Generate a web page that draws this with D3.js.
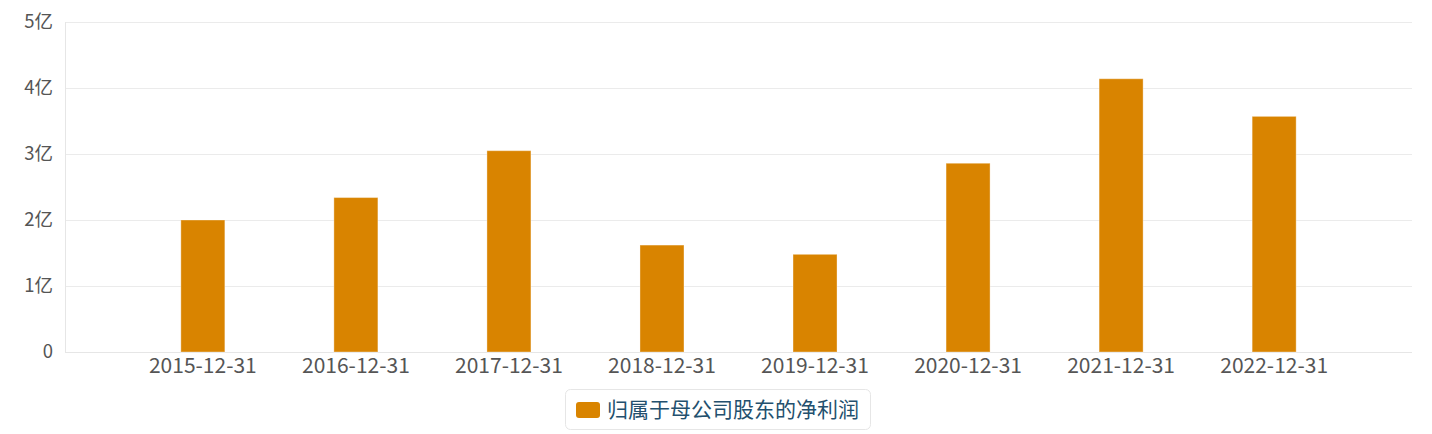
<!DOCTYPE html>
<html>
<head>
<meta charset="utf-8">
<script src="https://cdn.jsdelivr.net/npm/d3@7"></script>
<style>
  body { margin: 0; background: #fff; }
  text { font-family: "Noto Sans CJK SC", "Noto Sans", sans-serif; }
</style>
</head>
<body>
<script>
var categories = ['2015-12-31', '2016-12-31', '2017-12-31', '2018-12-31',
                  '2019-12-31', '2020-12-31', '2021-12-31', '2022-12-31'];
var netProfit = [2.00, 2.34, 3.05, 1.62, 1.48, 2.86, 4.14, 3.57]; // 亿
var yTicks = [0, 1, 2, 3, 4, 5];
var seriesName = '归属于母公司股东的净利润';

var WIDTH = 1432;
var HEIGHT = 434;
var LEFT = 65, RIGHT = 1412, TOP = 22, BOTTOM = 352;
var BAR_COLOR = '#d98400';

var svg = d3.select('body').append('svg')
    .attr('width', WIDTH)
    .attr('height', HEIGHT);

var x = d3.scaleBand()
    .domain(categories)
    .range([LEFT, RIGHT])
    .paddingInner(0.7125)
    .paddingOuter(0.757);

var y = d3.scaleLinear()
    .domain([0, 5])
    .range([BOTTOM, TOP]);

// grid
svg.append('g').selectAll('line').data(yTicks.slice(1)).enter()
    .append('line')
    .attr('x1', LEFT)
    .attr('x2', RIGHT)
    .attr('y1', function(d){return Math.round(y(d)) + 0.5;})
    .attr('y2', function(d){return Math.round(y(d)) + 0.5;})
    .attr('stroke', '#ebebeb')
    .attr('stroke-width', 1.2)

// axis lines
svg.append('line')
    .attr('x1', LEFT + 0.5).attr('x2', LEFT + 0.5)
    .attr('y1', TOP).attr('y2', BOTTOM)
    .attr('stroke', '#e6e6e6')
svg.append('line')
    .attr('x1', LEFT).attr('x2', RIGHT)
    .attr('y1', BOTTOM + 0.5).attr('y2', BOTTOM + 0.5)
    .attr('stroke', '#e6e6e6')

// y tick labels
var yAxis = d3.axisLeft(y)
    .tickValues(yTicks)
    .tickSize(0)
    .tickPadding(12)
    .tickFormat(function(d){return d === 0 ? '0' : d + '亿';});
var yg = svg.append('g')
    .attr('transform', 'translate(' + LEFT + ',0)')
    .call(yAxis);
yg.select('.domain').remove();
yg.selectAll('text')
    .attr('font-size', 18.5)
    .attr('fill', '#555')
    .style('font-family', '"Noto Sans CJK SC", sans-serif');

// x tick labels
var xAxis = d3.axisBottom(x).tickSize(0).tickPadding(6);
var xg = svg.append('g')
    .attr('transform', 'translate(0,' + BOTTOM + ')')
    .call(xAxis);
xg.select('.domain').remove();
xg.selectAll('text')
    .attr('font-size', 21)
    .attr('fill', '#555')
    .style('font-family', '"Noto Sans CJK SC", sans-serif');

// bars
svg.selectAll('.bar').data(netProfit).enter()
    .append('rect')
    .attr('class', 'bar')
    .attr('x', function(d, i){return x(categories[i]);})
    .attr('y', function(d){return y(d);})
    .attr('width', x.bandwidth())
    .attr('height', function(d){return y(0) - y(d);})
    .attr('fill', BAR_COLOR)
    .attr('stroke', 'rgba(255,255,255,0.35)')
    .attr('stroke-width', 1)

// legend
var legend = svg.append('g').attr('transform', 'translate(565,389)');
legend.append('rect')
    .attr('x', 0.5).attr('y', 0.5)
    .attr('width', 305).attr('height', 40)
    .attr('rx', 5).attr('ry', 5)
    .attr('fill', '#fff')
    .attr('stroke', '#e6e6e6')
legend.append('rect')
    .attr('x', 11).attr('y', 13)
    .attr('width', 24).attr('height', 16)
    .attr('rx', 3).attr('ry', 3)
    .attr('fill', BAR_COLOR)
legend.append('text')
    .attr('x', 42).attr('y', 21)
    .attr('dy', '0.35em')
    .attr('font-size', 21)
    .attr('fill', '#23506e')
    .text(seriesName)
</script>
</body>
</html>
